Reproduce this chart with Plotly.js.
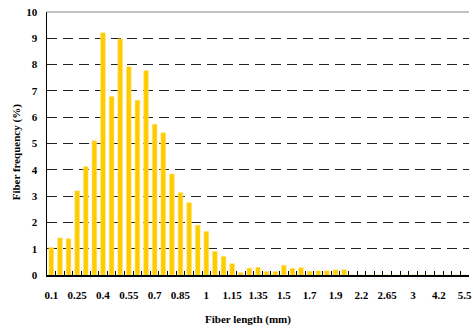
<!DOCTYPE html>
<html>
<head>
<meta charset="utf-8">
<script src="https://cdn.plot.ly/plotly-3.0.1.min.js"></script>
<style>html,body{margin:0;padding:0;background:#fff;}#chart{width:473px;height:329px;}</style>
</head>
<body>
<div id="chart"></div>
<script>
// Fiber length classes (mm); only every third is labelled on the axis
var categories = ["0.1","0.15","0.2","0.25","0.3","0.35","0.4","0.45","0.5","0.55",
  "0.6","0.65","0.7","0.75","0.8","0.85","0.9","0.95","1","1.05",
  "1.1","1.15","1.2","1.3","1.35","1.4","1.45","1.5","1.55","1.6",
  "1.7","1.75","1.8","1.9","2","2.1","2.2","2.35","2.5","2.65",
  "2.75","2.9","3","3.4","3.8","4.2","4.6","5","5.5"];
// Fiber frequency (%)
var frequency = [1.05,1.41,1.38,3.2,4.12,5.1,9.21,6.79,8.98,7.92,
  6.64,7.77,5.73,5.41,3.84,3.13,2.75,1.89,1.66,0.9,
  0.71,0.43,0.09,0.26,0.29,0.13,0.13,0.37,0.25,0.28,
  0.14,0.16,0.16,0.2,0.2,0,0,0,0,0,
  0,0,0,0,0,0,0,0,0];
var labelled = ["0.1","0.25","0.4","0.55","0.7","0.85","1","1.15","1.35","1.5","1.7","1.9","2.2","2.65","3","4.2","5.5"];
var tickText = categories.map(function(c){ return labelled.indexOf(c) >= 0 ? c : ""; });
var yTicks = [0,1,2,3,4,5,6,7,8,9,10];

var font = {family: "Liberation Serif, Times New Roman, serif", size: 11, color: "#000"};

var trace = {
  type: "bar",
  x: categories,
  y: frequency,
  marker: {color: "#FFCC00", line: {color: "#FFE27A", width: 0.5}},
  hoverinfo: "x+y"
};

var layout = {
  width: 473, height: 329,
  margin: {l: 47, r: 4, t: 12, b: 54},
  paper_bgcolor: "#fff", plot_bgcolor: "#fff",
  bargap: 0.45,
  showlegend: false,
  font: font,
  xaxis: {
    type: "category",
    categoryorder: "array", categoryarray: categories,
    tickmode: "array", tickvals: categories, ticktext: tickText,
    tickson: "boundaries",
    ticks: "inside", ticklen: 4, tickwidth: 1, tickcolor: "#000",
    showline: true, linecolor: "#000", linewidth: 2,
    showgrid: false, zeroline: false,
    ticklabelstandoff: 9,
    tickfont: {family: font.family, size: 11, color: "#000", weight: "bold"},
    tickangle: 0
  },
  yaxis: {
    range: [0, 10],
    tickmode: "array", tickvals: yTicks,
    showline: true, linecolor: "#000", linewidth: 1.5,
    showgrid: true, gridcolor: "#222", gridwidth: 1, griddash: "10px,6px",
    zeroline: false, ticks: "",
    ticklabelstandoff: 6,
    tickfont: {family: font.family, size: 11, color: "#000", weight: "bold"}
  },
  shapes: [{
    type: "line", xref: "paper", yref: "paper", x0: 0, x1: 1, y0: 1, y1: 1,
    line: {color: "#888", width: 1}
  }],
  annotations: [
    {text: "Fiber length (mm)", xref: "paper", yref: "paper", x: 0.477, y: -0.17,
     xanchor: "center", yanchor: "middle", showarrow: false,
     font: {family: font.family, size: 11, color: "#000", weight: "bold"}},
    {text: "Fiber frequency (%)", xref: "paper", yref: "paper", x: -0.072, y: 0.465,
     xanchor: "center", yanchor: "middle", showarrow: false, textangle: -90,
     font: {family: font.family, size: 11, color: "#000", weight: "bold"}}
  ]
};

Plotly.newPlot("chart", [trace], layout, {displayModeBar: false, staticPlot: true});
</script>
</body>
</html>
